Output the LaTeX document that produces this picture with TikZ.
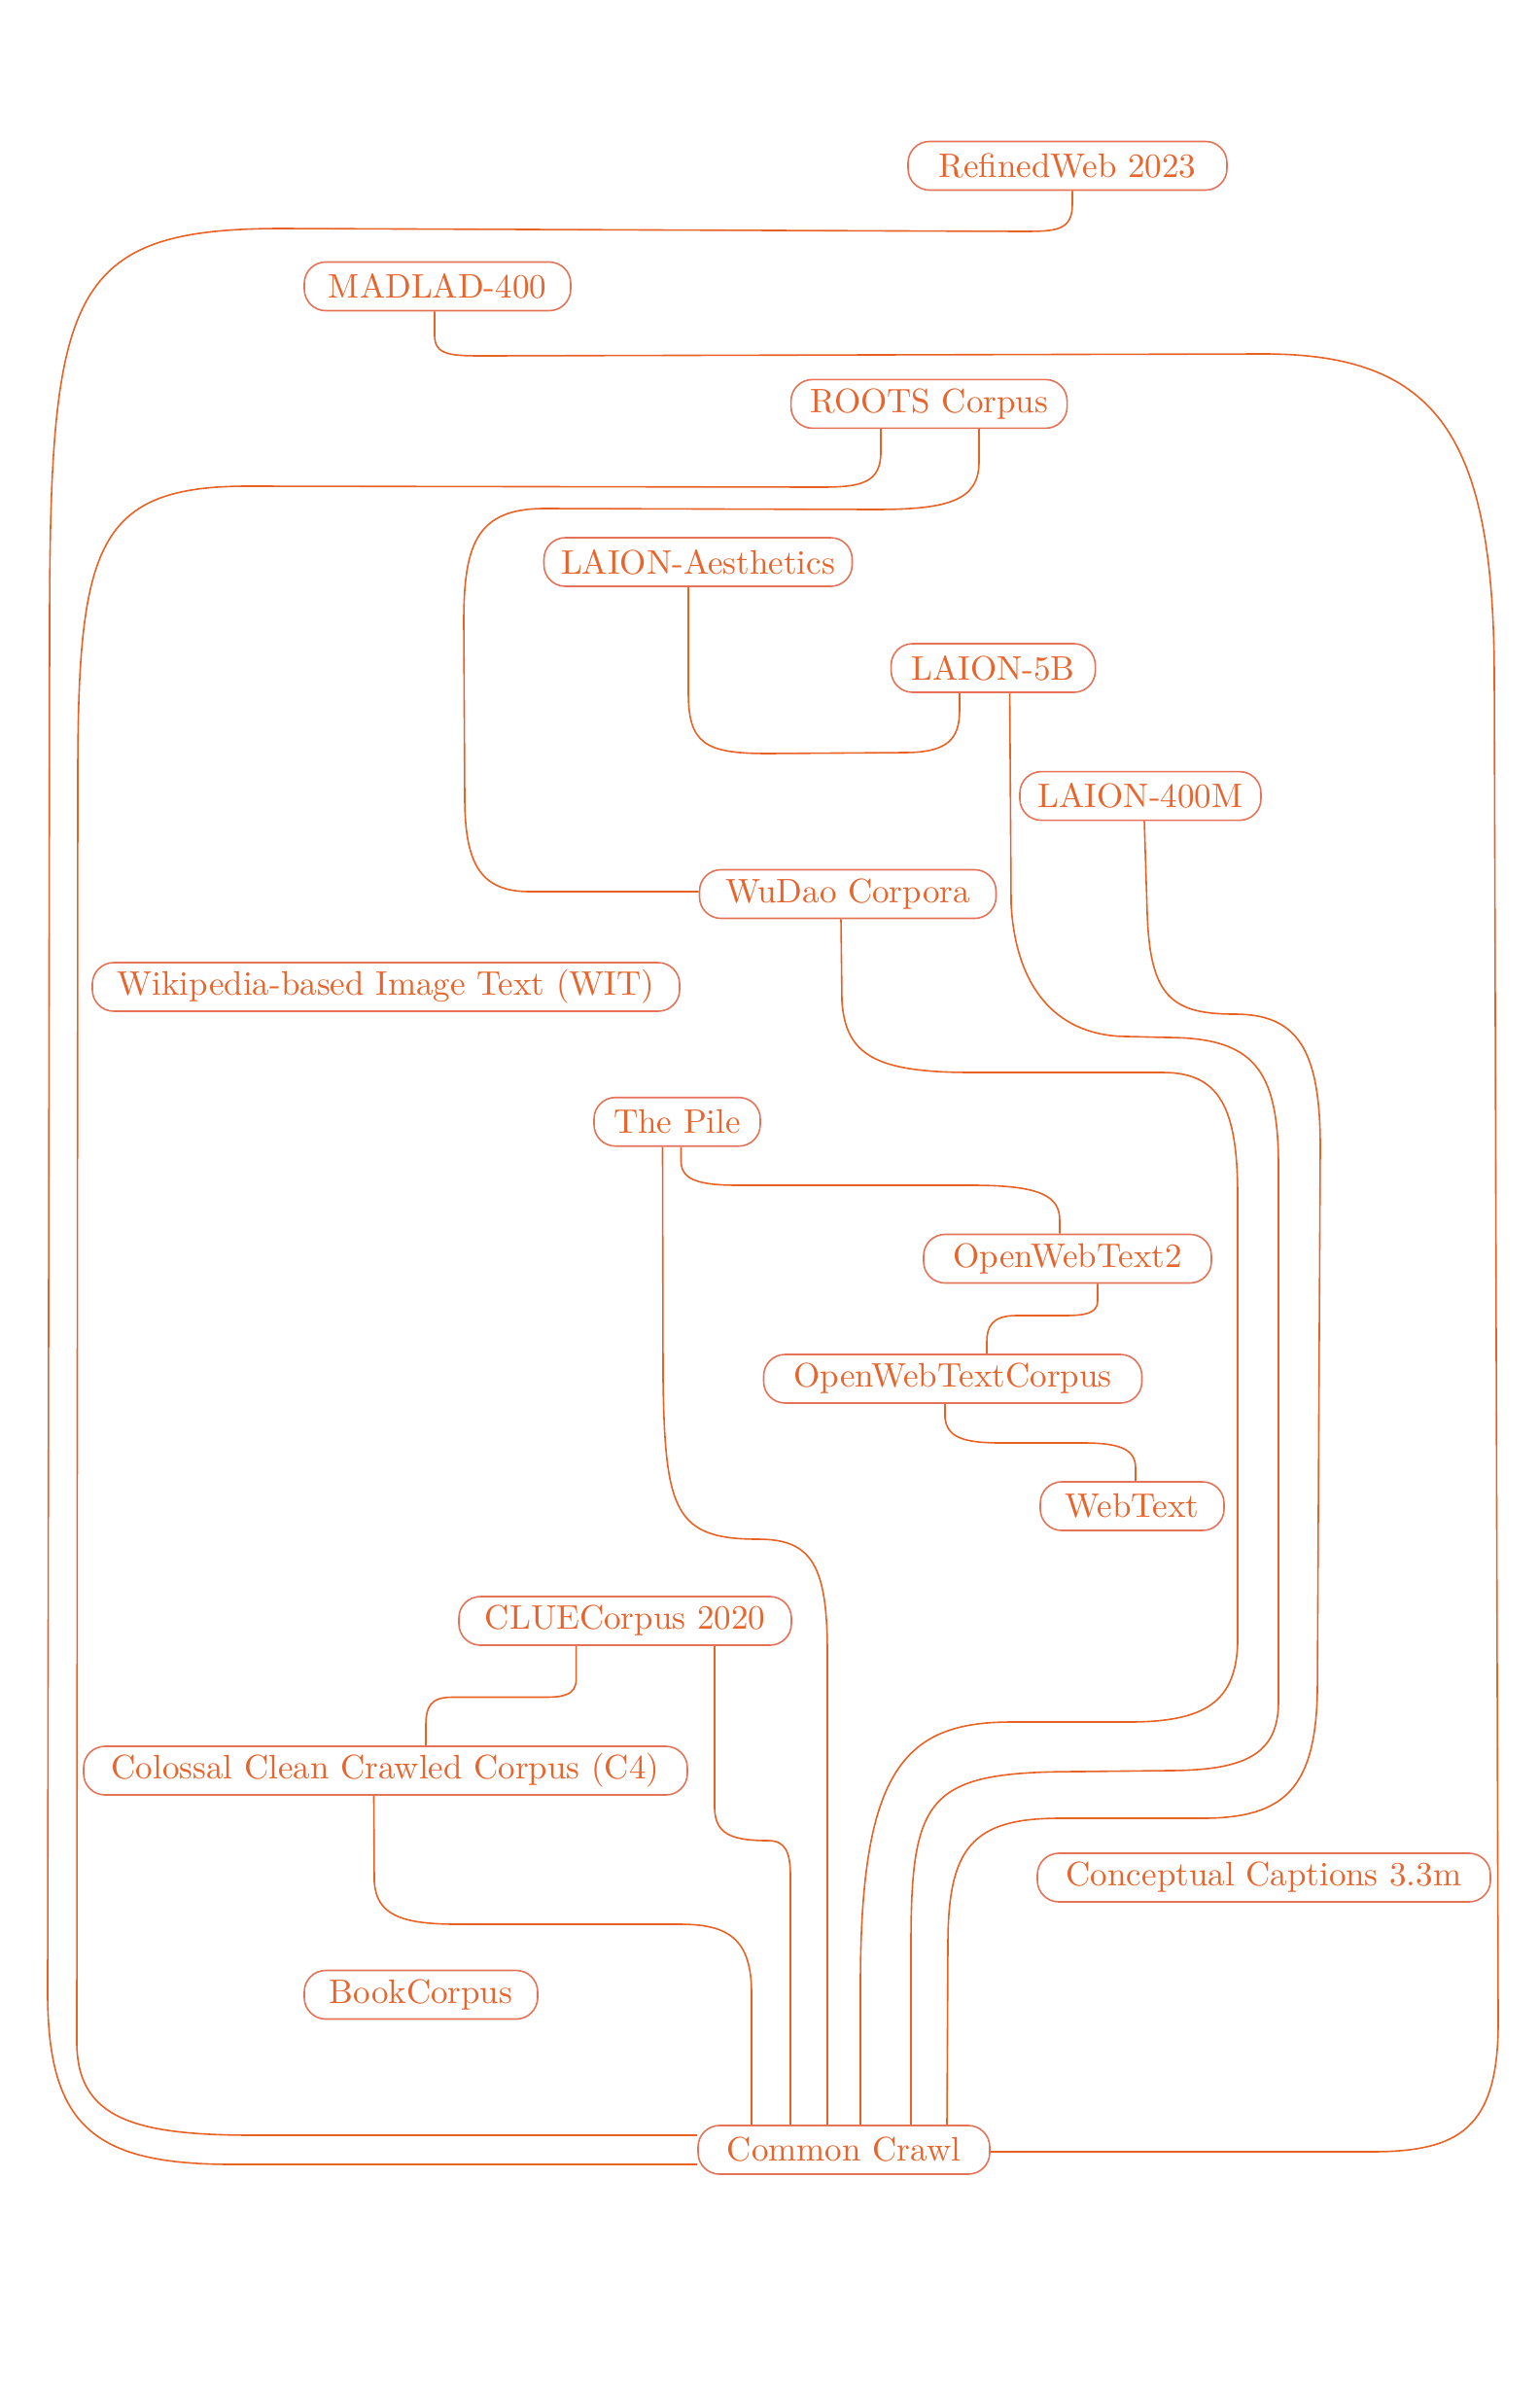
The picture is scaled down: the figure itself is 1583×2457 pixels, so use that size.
\documentclass[tikz,border=0pt]{standalone}
\usepackage{fontspec}
\setmainfont{lmroman10-regular.otf}
\definecolor{edgec}{RGB}{232,98,38}
\definecolor{boxc}{RGB}{228,115,90}
\definecolor{textc}{RGB}{232,100,45}
\tikzset{
  ds/.style={draw=boxc, line width=1.6pt, rounded corners=22pt, minimum height=50pt,
    inner sep=0pt, text=textc, font=\fontsize{35}{42}\selectfont, anchor=center},
  ed/.style={draw=edgec, line width=1.6pt}
}
\begin{document}
\begin{tikzpicture}[x=1pt,y=-1pt]
\useasboundingbox (0,0) rectangle (1583,2457);
% nodes
\node[ds, minimum width=328pt] (rw)    at (1098,170.5) {RefinedWeb 2023};
\node[ds, minimum width=274pt] (madlad) at (450,294.5) {MADLAD-400};
\node[ds, minimum width=284pt] (roots) at (955.6,415.4) {ROOTS Corpus};
\node[ds, minimum width=317pt] (aes)   at (718,578) {LAION-Aesthetics};
\node[ds, minimum width=210pt] (lb5)   at (1021.6,687) {LAION-5B};
\node[ds, minimum width=248pt] (lb400) at (1173,818.6) {LAION-400M};
\node[ds, minimum width=305pt] (wudao) at (872,919.5) {WuDao Corpora};
\node[ds, minimum width=604pt] (wit)   at (397,1015) {Wikipedia-based Image Text (WIT)};
\node[ds, minimum width=171pt] (pile)  at (696.5,1153.7) {The Pile};
\node[ds, minimum width=296pt] (owt2)  at (1098,1294.5) {OpenWebText2};
\node[ds, minimum width=389pt] (owtc)  at (980,1418) {OpenWebTextCorpus};
\node[ds, minimum width=189pt] (webtext) at (1164.5,1549) {WebText};
\node[ds, minimum width=342pt] (clue)  at (643,1667) {CLUECorpus 2020};
\node[ds, minimum width=621pt] (c4)    at (396.5,1821) {Colossal Clean Crawled Corpus (C4)};
\node[ds, minimum width=466pt] (cc33)  at (1300,1931) {Conceptual Captions 3.3m};
\node[ds, minimum width=240pt] (book)  at (433,2051.5) {BookCorpus};
\node[ds, minimum width=300pt] (cc)    at (868,2211) {Common Crawl};
% edges
% RefinedWeb -> Common Crawl (outer left loop)
\draw[ed] ([xshift=5pt]rw.south) -- (1103,210)
  .. controls (1103,238) and (1085,238) .. (1050,238)
  -- (290,235)
  .. controls (70,235) and (51,300) .. (51,650)
  -- (49,2050)
  .. controls (49,2190) and (100,2226) .. (240,2226)
  -- ([yshift=-15pt]cc.west);
% ROOTS -> Common Crawl (inner left loop)
\draw[ed] ([xshift=-49.6pt]roots.south) -- (906,465)
  .. controls (906,497) and (885,501) .. (845,501)
  -- (255,500)
  .. controls (100,500) and (80,560) .. (80,800)
  -- (79,2100)
  .. controls (79,2180) and (140,2196) .. (262,2196)
  -- ([yshift=15pt]cc.west);
% MADLAD -> Common Crawl (right loop)
\draw[ed] ([xshift=-3pt]madlad.south) -- (447,345)
  .. controls (447,366) and (465,366) .. (500,366)
  -- (1300,364)
  .. controls (1480,364) and (1537,450) .. (1537,700)
  -- (1541,2080)
  .. controls (1541,2190) and (1500,2213) .. (1410,2213)
  -- ([yshift=-2pt]cc.east);
% ROOTS -> WuDao
\draw[ed] ([xshift=51.4pt]roots.south) -- (1007,475)
  .. controls (1007,515) and (975,524) .. (900,524)
  -- (560,523)
  .. controls (490,523) and (477,560) .. (477,640)
  -- (478,820)
  .. controls (478,890) and (495,917) .. (545,917)
  -- ([yshift=2.5pt]wudao.west);
% LAION-Aesthetics -> LAION-5B
\draw[ed] ([xshift=-10pt]aes.south) -- (708,712)
  .. controls (708,765) and (725,775) .. (790,775)
  -- (930,774)
  .. controls (975,774) and (987,760) .. (987,730)
  -- ([xshift=-34.6pt]lb5.south);
% LAION-5B -> Common Crawl
\draw[ed] ([xshift=17pt]lb5.south) -- (1040,930)
  .. controls (1045,1020) and (1090,1066) .. (1160,1066)
  -- (1200,1067)
  .. controls (1290,1067) and (1315,1100) .. (1315,1200)
  -- (1315,1750)
  .. controls (1315,1805) and (1280,1821) .. (1200,1821)
  -- (1110,1822)
  .. controls (955,1822) and (937,1845) .. (937,2000)
  -- ([xshift=69pt]cc.north);
% LAION-400M -> Common Crawl
\draw[ed] ([xshift=4pt]lb400.south) -- (1180,940)
  .. controls (1183,1025) and (1205,1043) .. (1270,1043)
  .. controls (1335,1043) and (1358,1080) .. (1358,1180)
  -- (1355,1740)
  .. controls (1353,1840) and (1320,1869) .. (1240,1870)
  -- (1090,1870)
  .. controls (1000,1870) and (975,1900) .. (975,2000)
  -- ([xshift=106pt]cc.north);
% WuDao -> Common Crawl
\draw[ed] ([xshift=-7pt]wudao.south) -- (866,1030)
  .. controls (870,1085) and (900,1103) .. (1000,1103)
  -- (1196,1103)
  .. controls (1255,1103) and (1273,1140) .. (1273,1230)
  -- (1273,1690)
  .. controls (1271,1750) and (1240,1771) .. (1161,1771)
  -- (1040,1771)
  .. controls (930,1771) and (885,1820) .. (885,2041)
  -- ([xshift=17pt]cc.north);
% The Pile -> OpenWebText2
\draw[ed] ([xshift=4pt]pile.south) -- (700.5,1195)
  .. controls (701,1214) and (720,1219) .. (760,1219)
  -- (1000,1219)
  .. controls (1070,1219) and (1090,1230) .. (1090,1255)
  -- ([xshift=-8pt]owt2.north);
% The Pile -> Common Crawl
\draw[ed] ([xshift=-15pt]pile.south) -- (682,1420)
  .. controls (684,1555) and (695,1583) .. (780,1583)
  .. controls (835,1583) and (851,1610) .. (851,1700)
  -- ([xshift=-17pt]cc.north);
% OpenWebText2 -> OpenWebTextCorpus
\draw[ed] ([xshift=31pt]owt2.south) -- (1129,1338)
  .. controls (1129,1351) and (1115,1353) .. (1095,1353)
  -- (1045,1353)
  .. controls (1020,1353) and (1015,1365) .. (1015,1380)
  -- ([xshift=35pt]owtc.north);
% OpenWebTextCorpus -> WebText
\draw[ed] ([xshift=-8pt]owtc.south) -- (972,1458)
  .. controls (974,1478) and (990,1484) .. (1030,1484)
  -- (1115,1484)
  .. controls (1155,1484) and (1168,1492) .. (1168,1510)
  -- ([xshift=3.5pt]webtext.north);
% CLUECorpus -> C4
\draw[ed] ([xshift=-50.4pt]clue.south) -- (592.6,1728)
  .. controls (592,1743) and (580,1745.5) .. (560,1745.5)
  -- (465,1745.5)
  .. controls (443,1745.5) and (438,1755) .. (438,1775)
  -- ([xshift=41.5pt]c4.north);
% CLUECorpus -> Common Crawl
\draw[ed] ([xshift=92pt]clue.south) -- (735,1860)
  .. controls (736,1885) and (750,1893) .. (790,1893)
  .. controls (808,1893) and (813,1905) .. (813,1930)
  -- ([xshift=-55pt]cc.north);
% C4 -> Common Crawl
\draw[ed] ([xshift=-12pt]c4.south) -- (385,1935)
  .. controls (387,1968) and (410,1979) .. (470,1979)
  -- (700,1979)
  .. controls (750,1979) and (773,1995) .. (773,2050)
  -- ([xshift=-95pt]cc.north);
\end{tikzpicture}
\end{document}
